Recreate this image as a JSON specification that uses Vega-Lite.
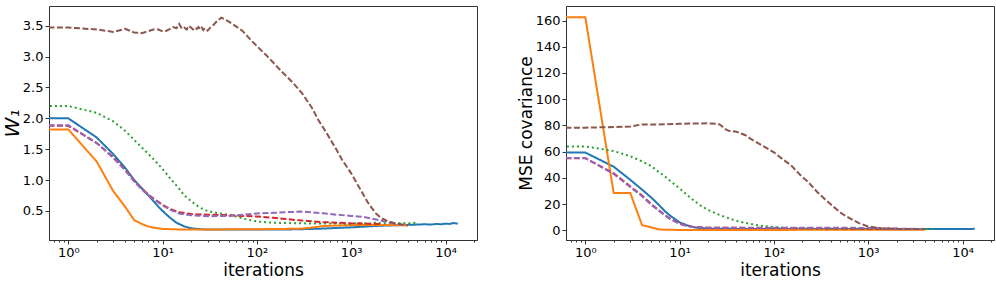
{
  "$schema": "https://vega.github.io/schema/vega-lite/v6.json",
  "padding": {"left": 1, "top": 5, "right": 5, "bottom": 3},
  "config": {
    "font": "DejaVu Sans",
    "view": {"stroke": "#333", "strokeWidth": 1},
    "axis": {"grid": false, "labelFontSize": 13, "titleFontSize": 17, "titleFontWeight": "normal", "labelColor": "#000", "titleColor": "#000", "domainColor": "#333", "tickColor": "#333", "tickSize": 4, "labelPadding": 2},
    "line": {"strokeWidth": 2, "clip": true}
  },
  "datasets": {
    "L": [
      {"s":"a","x":0.5,"y":2.0},{"s":"a","x":1,"y":2.0},{"s":"a","x":2,"y":1.69},{"s":"a","x":3,"y":1.42},{"s":"a","x":4,"y":1.2},{"s":"a","x":5,"y":1.0},{"s":"a","x":6,"y":0.87},{"s":"a","x":7,"y":0.76},{"s":"a","x":8,"y":0.66},{"s":"a","x":9,"y":0.57},{"s":"a","x":10,"y":0.5},{"s":"a","x":12,"y":0.39},{"s":"a","x":14,"y":0.31},{"s":"a","x":17,"y":0.25},{"s":"a","x":20,"y":0.22},{"s":"a","x":25,"y":0.205},{"s":"a","x":30,"y":0.2},{"s":"a","x":50,"y":0.2},{"s":"a","x":100,"y":0.2},{"s":"a","x":200,"y":0.2},{"s":"a","x":300,"y":0.205},{"s":"a","x":500,"y":0.215},{"s":"a","x":700,"y":0.225},{"s":"a","x":1000,"y":0.235},{"s":"a","x":1500,"y":0.25},{"s":"a","x":2000,"y":0.26},{"s":"a","x":3000,"y":0.27},{"s":"a","x":4000,"y":0.275},{"s":"a","x":5000,"y":0.28},{"s":"a","x":6000,"y":0.285},{"s":"a","x":7000,"y":0.28},{"s":"a","x":8000,"y":0.29},{"s":"a","x":9000,"y":0.285},{"s":"a","x":10000,"y":0.295},{"s":"a","x":11000,"y":0.29},{"s":"a","x":12000,"y":0.305},{"s":"a","x":13500,"y":0.295},
      {"s":"b","x":0.5,"y":1.82},{"s":"b","x":1,"y":1.82},{"s":"b","x":2,"y":1.3},{"s":"b","x":3,"y":0.82},{"s":"b","x":4,"y":0.57},{"s":"b","x":5,"y":0.35},{"s":"b","x":6,"y":0.29},{"s":"b","x":7,"y":0.25},{"s":"b","x":8,"y":0.23},{"s":"b","x":10,"y":0.21},{"s":"b","x":15,"y":0.2},{"s":"b","x":30,"y":0.2},{"s":"b","x":100,"y":0.205},{"s":"b","x":200,"y":0.21},{"s":"b","x":300,"y":0.215},{"s":"b","x":400,"y":0.235},{"s":"b","x":500,"y":0.255},{"s":"b","x":700,"y":0.265},{"s":"b","x":1000,"y":0.27},{"s":"b","x":2000,"y":0.275},{"s":"b","x":3000,"y":0.27},{"s":"b","x":4000,"y":0.27},
      {"s":"c","x":0.5,"y":2.2},{"s":"c","x":1,"y":2.2},{"s":"c","x":2,"y":2.09},{"s":"c","x":3,"y":1.95},{"s":"c","x":4,"y":1.8},{"s":"c","x":5,"y":1.65},{"s":"c","x":6,"y":1.53},{"s":"c","x":7,"y":1.43},{"s":"c","x":8,"y":1.34},{"s":"c","x":10,"y":1.18},{"s":"c","x":12,"y":1.03},{"s":"c","x":15,"y":0.86},{"s":"c","x":17,"y":0.75},{"s":"c","x":20,"y":0.66},{"s":"c","x":25,"y":0.55},{"s":"c","x":30,"y":0.5},{"s":"c","x":40,"y":0.46},{"s":"c","x":50,"y":0.44},{"s":"c","x":60,"y":0.41},{"s":"c","x":70,"y":0.38},{"s":"c","x":80,"y":0.36},{"s":"c","x":100,"y":0.33},{"s":"c","x":150,"y":0.31},{"s":"c","x":200,"y":0.305},{"s":"c","x":300,"y":0.3},{"s":"c","x":500,"y":0.295},{"s":"c","x":700,"y":0.3},{"s":"c","x":1000,"y":0.29},{"s":"c","x":1200,"y":0.305},{"s":"c","x":1500,"y":0.29},{"s":"c","x":1800,"y":0.31},{"s":"c","x":2200,"y":0.295},{"s":"c","x":2600,"y":0.31},{"s":"c","x":3000,"y":0.29},{"s":"c","x":3500,"y":0.31},{"s":"c","x":4000,"y":0.295},{"s":"c","x":4500,"y":0.31},{"s":"c","x":5000,"y":0.3},
      {"s":"d","x":0.5,"y":1.88},{"s":"d","x":1,"y":1.88},{"s":"d","x":2,"y":1.6},{"s":"d","x":3,"y":1.37},{"s":"d","x":4,"y":1.17},{"s":"d","x":5,"y":0.99},{"s":"d","x":6,"y":0.86},{"s":"d","x":7,"y":0.77},{"s":"d","x":8,"y":0.7},{"s":"d","x":10,"y":0.6},{"s":"d","x":12,"y":0.53},{"s":"d","x":15,"y":0.48},{"s":"d","x":20,"y":0.45},{"s":"d","x":30,"y":0.44},{"s":"d","x":50,"y":0.43},{"s":"d","x":70,"y":0.42},{"s":"d","x":100,"y":0.41},{"s":"d","x":150,"y":0.39},{"s":"d","x":200,"y":0.37},{"s":"d","x":300,"y":0.345},{"s":"d","x":500,"y":0.32},{"s":"d","x":700,"y":0.31},{"s":"d","x":1000,"y":0.3},{"s":"d","x":1500,"y":0.295},{"s":"d","x":2000,"y":0.29},
      {"s":"e","x":0.5,"y":1.89},{"s":"e","x":1,"y":1.89},{"s":"e","x":2,"y":1.6},{"s":"e","x":3,"y":1.36},{"s":"e","x":4,"y":1.16},{"s":"e","x":5,"y":0.98},{"s":"e","x":6,"y":0.85},{"s":"e","x":7,"y":0.76},{"s":"e","x":8,"y":0.69},{"s":"e","x":10,"y":0.59},{"s":"e","x":12,"y":0.52},{"s":"e","x":15,"y":0.46},{"s":"e","x":20,"y":0.43},{"s":"e","x":30,"y":0.415},{"s":"e","x":50,"y":0.42},{"s":"e","x":70,"y":0.44},{"s":"e","x":100,"y":0.46},{"s":"e","x":150,"y":0.47},{"s":"e","x":200,"y":0.48},{"s":"e","x":300,"y":0.49},{"s":"e","x":500,"y":0.465},{"s":"e","x":700,"y":0.44},{"s":"e","x":1000,"y":0.42},{"s":"e","x":1400,"y":0.4},{"s":"e","x":2000,"y":0.35},{"s":"e","x":2500,"y":0.31},{"s":"e","x":3000,"y":0.29},{"s":"e","x":3600,"y":0.27},{"s":"e","x":4000,"y":0.27},
      {"s":"f","x":0.5,"y":3.47},{"s":"f","x":1,"y":3.47},{"s":"f","x":2,"y":3.44},{"s":"f","x":3,"y":3.4},{"s":"f","x":4,"y":3.45},{"s":"f","x":5,"y":3.39},{"s":"f","x":6,"y":3.38},{"s":"f","x":7,"y":3.41},{"s":"f","x":8,"y":3.44},{"s":"f","x":9,"y":3.44},{"s":"f","x":10,"y":3.41},{"s":"f","x":11,"y":3.42},{"s":"f","x":12,"y":3.45},{"s":"f","x":13,"y":3.48},{"s":"f","x":14,"y":3.46},{"s":"f","x":15,"y":3.53},{"s":"f","x":16,"y":3.45},{"s":"f","x":17,"y":3.47},{"s":"f","x":18,"y":3.44},{"s":"f","x":19,"y":3.5},{"s":"f","x":20,"y":3.47},{"s":"f","x":21,"y":3.44},{"s":"f","x":22,"y":3.47},{"s":"f","x":23,"y":3.45},{"s":"f","x":24,"y":3.48},{"s":"f","x":25,"y":3.44},{"s":"f","x":26,"y":3.47},{"s":"f","x":27,"y":3.43},{"s":"f","x":28,"y":3.46},{"s":"f","x":30,"y":3.42},{"s":"f","x":32,"y":3.47},{"s":"f","x":35,"y":3.52},{"s":"f","x":38,"y":3.58},{"s":"f","x":42,"y":3.63},{"s":"f","x":45,"y":3.61},{"s":"f","x":50,"y":3.57},{"s":"f","x":60,"y":3.49},{"s":"f","x":70,"y":3.42},{"s":"f","x":85,"y":3.28},{"s":"f","x":100,"y":3.17},{"s":"f","x":130,"y":3.0},{"s":"f","x":180,"y":2.77},{"s":"f","x":240,"y":2.58},{"s":"f","x":300,"y":2.41},{"s":"f","x":380,"y":2.18},{"s":"f","x":450,"y":1.97},{"s":"f","x":550,"y":1.76},{"s":"f","x":670,"y":1.54},{"s":"f","x":800,"y":1.33},{"s":"f","x":1000,"y":1.11},{"s":"f","x":1250,"y":0.85},{"s":"f","x":1500,"y":0.64},{"s":"f","x":1800,"y":0.47},{"s":"f","x":2100,"y":0.38},{"s":"f","x":2500,"y":0.33},{"s":"f","x":2900,"y":0.3},{"s":"f","x":3500,"y":0.28},{"s":"f","x":4000,"y":0.27}
    ],
    "R": [
      {"s":"a","x":0.5,"y":59.3},{"s":"a","x":1,"y":59.3},{"s":"a","x":2,"y":48.5},{"s":"a","x":3,"y":38.5},{"s":"a","x":4,"y":31},{"s":"a","x":5,"y":25},{"s":"a","x":6,"y":19.5},{"s":"a","x":7,"y":14.5},{"s":"a","x":8,"y":11},{"s":"a","x":10,"y":6},{"s":"a","x":12,"y":3.8},{"s":"a","x":14,"y":2.4},{"s":"a","x":17,"y":1.6},{"s":"a","x":20,"y":1.3},{"s":"a","x":30,"y":1.1},{"s":"a","x":100,"y":1.0},{"s":"a","x":1000,"y":1.0},{"s":"a","x":3000,"y":1.0},{"s":"a","x":10000,"y":1.0},{"s":"a","x":13500,"y":1.1},
      {"s":"b","x":0.5,"y":162.5},{"s":"b","x":1,"y":162.5},{"s":"b","x":2,"y":28.4},{"s":"b","x":3,"y":28.4},{"s":"b","x":4,"y":3.9},{"s":"b","x":5,"y":2.2},{"s":"b","x":6,"y":0.8},{"s":"b","x":7,"y":0.4},{"s":"b","x":10,"y":0.3},{"s":"b","x":100,"y":0.3},{"s":"b","x":1000,"y":0.4},{"s":"b","x":4000,"y":0.5},
      {"s":"c","x":0.5,"y":64},{"s":"c","x":1,"y":64},{"s":"c","x":2,"y":60.5},{"s":"c","x":3,"y":56.5},{"s":"c","x":4,"y":52.5},{"s":"c","x":5,"y":49},{"s":"c","x":6,"y":44.5},{"s":"c","x":7,"y":41},{"s":"c","x":8,"y":37.5},{"s":"c","x":10,"y":32},{"s":"c","x":12,"y":27},{"s":"c","x":14,"y":23},{"s":"c","x":17,"y":18.5},{"s":"c","x":20,"y":15.5},{"s":"c","x":25,"y":12.5},{"s":"c","x":30,"y":10.3},{"s":"c","x":40,"y":7.2},{"s":"c","x":50,"y":5.6},{"s":"c","x":70,"y":3.6},{"s":"c","x":100,"y":2.4},{"s":"c","x":150,"y":1.8},{"s":"c","x":200,"y":1.5},{"s":"c","x":300,"y":1.3},{"s":"c","x":500,"y":1.2},{"s":"c","x":1000,"y":1.1},{"s":"c","x":2000,"y":1.05},{"s":"c","x":5000,"y":1.0},
      {"s":"d","x":0.5,"y":55},{"s":"d","x":1,"y":55},{"s":"d","x":2,"y":43.5},{"s":"d","x":3,"y":33.5},{"s":"d","x":4,"y":26.5},{"s":"d","x":5,"y":20},{"s":"d","x":6,"y":15.3},{"s":"d","x":7,"y":11.5},{"s":"d","x":8,"y":8.7},{"s":"d","x":10,"y":5.2},{"s":"d","x":12,"y":3.4},{"s":"d","x":14,"y":2.5},{"s":"d","x":20,"y":1.9},{"s":"d","x":100,"y":1.8},{"s":"d","x":300,"y":1.5},{"s":"d","x":1000,"y":1.2},{"s":"d","x":2000,"y":1.1},
      {"s":"e","x":0.5,"y":55.1},{"s":"e","x":1,"y":55.1},{"s":"e","x":2,"y":43},{"s":"e","x":3,"y":33},{"s":"e","x":4,"y":26},{"s":"e","x":5,"y":19.5},{"s":"e","x":6,"y":15},{"s":"e","x":7,"y":11.3},{"s":"e","x":8,"y":8.5},{"s":"e","x":10,"y":5},{"s":"e","x":12,"y":3.3},{"s":"e","x":14,"y":2.5},{"s":"e","x":20,"y":2.0},{"s":"e","x":50,"y":2.0},{"s":"e","x":100,"y":2.0},{"s":"e","x":300,"y":2.0},{"s":"e","x":1000,"y":1.8},{"s":"e","x":2000,"y":1.3},{"s":"e","x":3000,"y":1.1},{"s":"e","x":4000,"y":1.0},
      {"s":"f","x":0.5,"y":78.3},{"s":"f","x":1,"y":78.3},{"s":"f","x":2,"y":78.8},{"s":"f","x":3,"y":79.2},{"s":"f","x":4,"y":80.8},{"s":"f","x":6,"y":80.7},{"s":"f","x":10,"y":81.2},{"s":"f","x":15,"y":81.5},{"s":"f","x":20,"y":81.6},{"s":"f","x":25,"y":81.3},{"s":"f","x":27,"y":80.5},{"s":"f","x":30,"y":77.5},{"s":"f","x":33,"y":75.9},{"s":"f","x":40,"y":75.2},{"s":"f","x":50,"y":72.5},{"s":"f","x":56,"y":70},{"s":"f","x":70,"y":66},{"s":"f","x":85,"y":62.5},{"s":"f","x":100,"y":59.5},{"s":"f","x":127,"y":53.6},{"s":"f","x":150,"y":50},{"s":"f","x":191,"y":42.1},{"s":"f","x":230,"y":37},{"s":"f","x":286,"y":29.4},{"s":"f","x":350,"y":23.5},{"s":"f","x":428,"y":18},{"s":"f","x":520,"y":13},{"s":"f","x":640,"y":9.1},{"s":"f","x":800,"y":5.5},{"s":"f","x":960,"y":3.3},{"s":"f","x":1333,"y":1.5},{"s":"f","x":2000,"y":1.1},{"s":"f","x":3000,"y":1.0},{"s":"f","x":4000,"y":1.0}
    ]
  },
  "spacing": 38,
  "hconcat": [
    {
      "width": 428, "height": 234,
      "data": {"name": "L"},
      "mark": {"type": "line", "clip": true, "strokeWidth": 2},
      "encoding": {
        "x": {"field": "x", "type": "quantitative",
          "scale": {"type": "log", "domain": [0.624, 21580], "nice": false},
          "axis": {"title": "iterations", "titlePadding": 3, "labelOverlap": false, "labelFlush": false,
            "values": [0.7,0.8,0.9,1,2,3,4,5,6,7,8,9,10,20,30,40,50,60,70,80,90,100,200,300,400,500,600,700,800,900,1000,2000,3000,4000,5000,6000,7000,8000,9000,10000,20000],
            "labelExpr": "datum.value == 1 ? '10⁰' : datum.value == 10 ? '10¹' : datum.value == 100 ? '10²' : datum.value == 1000 ? '10³' : datum.value == 10000 ? '10⁴' : ''",
            "tickSize": {"condition": {"test": "indexof([1,10,100,1000,10000], datum.value) >= 0", "value": 4}, "value": 2}}},
        "y": {"field": "y", "type": "quantitative",
          "scale": {"domain": [0.03, 3.82], "nice": false, "zero": false},
          "axis": {"title": "W₁", "titleFontStyle": "italic", "titleFontSize": 20, "titlePadding": 0, "values": [0.5,1.0,1.5,2.0,2.5,3.0,3.5], "format": ".1f"}},
        "color": {"field": "s", "type": "nominal", "legend": null,
          "scale": {"domain": ["a","b","c","d","e","f"], "range": ["#1f77b4","#ff7f0e","#2ca02c","#d62728","#9467bd","#8c564b"]}},
        "strokeDash": {"field": "s", "type": "nominal", "legend": null,
          "scale": {"domain": ["a","b","c","d","e","f"], "range": [[1,0],[1,0],[2,3],[6,2.5],[6,2.5],[6,2.5]]}}
      }
    },
    {
      "width": 428, "height": 234,
      "data": {"name": "R"},
      "mark": {"type": "line", "clip": true, "strokeWidth": 2},
      "encoding": {
        "x": {"field": "x", "type": "quantitative",
          "scale": {"type": "log", "domain": [0.624, 21580], "nice": false},
          "axis": {"title": "iterations", "titlePadding": 3, "labelOverlap": false, "labelFlush": false,
            "values": [0.7,0.8,0.9,1,2,3,4,5,6,7,8,9,10,20,30,40,50,60,70,80,90,100,200,300,400,500,600,700,800,900,1000,2000,3000,4000,5000,6000,7000,8000,9000,10000,20000],
            "labelExpr": "datum.value == 1 ? '10⁰' : datum.value == 10 ? '10¹' : datum.value == 100 ? '10²' : datum.value == 1000 ? '10³' : datum.value == 10000 ? '10⁴' : ''",
            "tickSize": {"condition": {"test": "indexof([1,10,100,1000,10000], datum.value) >= 0", "value": 4}, "value": 2}}},
        "y": {"field": "y", "type": "quantitative",
          "scale": {"domain": [-7.4, 171.1], "nice": false, "zero": false},
          "axis": {"title": "MSE covariance", "titlePadding": 0, "values": [0,20,40,60,80,100,120,140,160]}},
        "color": {"field": "s", "type": "nominal", "legend": null,
          "scale": {"domain": ["a","b","c","d","e","f"], "range": ["#1f77b4","#ff7f0e","#2ca02c","#d62728","#9467bd","#8c564b"]}},
        "strokeDash": {"field": "s", "type": "nominal", "legend": null,
          "scale": {"domain": ["a","b","c","d","e","f"], "range": [[1,0],[1,0],[2,3],[6,2.5],[6,2.5],[6,2.5]]}}
      }
    }
  ]
}
